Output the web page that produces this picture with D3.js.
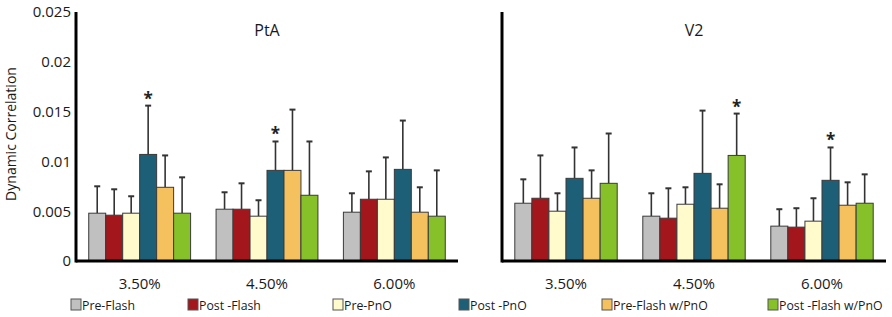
<!DOCTYPE html>
<html>
<head>
<meta charset="utf-8">
<script src="https://cdn.jsdelivr.net/npm/d3@7"></script>
<style>
	body { margin: 0; background: #fff; }
	svg { display: block; font-family: "Open Sans", sans-serif; }
</style>
</head>
<body>
<div id="chart-area"></div>
<script>
// Data
let categories = ["3.50%", "4.50%", "6.00%"];
let series = ["Pre-Flash", "Post -Flash", "Pre-PnO", "Post -PnO", "Pre-Flash w/PnO", "Post -Flash w/PnO"];
let colors = ["#c0c0c0", "#a3161b", "#fffbcc", "#1e5f78", "#f5c15e", "#86c12a"];
let yTicks = [0, 0.005, 0.01, 0.015, 0.02, 0.025];

// PtA: one row per category, one value per series
let ptaMeans = [
	[0.0048, 0.0046, 0.0048, 0.0107, 0.0074, 0.0048],
	[0.0052, 0.0052, 0.0045, 0.0091, 0.0091, 0.0066],
	[0.0049, 0.0062, 0.0062, 0.0092, 0.0049, 0.0045]
];
let ptaErrTop = [
	[0.0075, 0.0072, 0.0065, 0.0156, 0.0106, 0.0084],
	[0.0069, 0.0078, 0.0061, 0.0120, 0.0152, 0.0120],
	[0.0068, 0.0090, 0.0104, 0.0141, 0.0074, 0.0091]
];
let ptaStars = [[0, 3], [1, 3]];

// V2
let v2Means = [
	[0.0058, 0.0063, 0.0050, 0.0083, 0.0063, 0.0078],
	[0.0045, 0.0043, 0.0057, 0.0088, 0.0053, 0.0106],
	[0.0035, 0.0034, 0.0040, 0.0081, 0.0056, 0.0058]
];
let v2ErrTop = [
	[0.0082, 0.0106, 0.0068, 0.0114, 0.0091, 0.0128],
	[0.0068, 0.0073, 0.0074, 0.0151, 0.0077, 0.0148],
	[0.0052, 0.0053, 0.0063, 0.0114, 0.0079, 0.0087]
];
let v2Stars = [[1, 5], [2, 3]];

let legendX = [71, 188, 333, 459, 602, 768];

// SVG drawing space
let width = 892, height = 317;
let svg = d3.select("#chart-area")
	.append("svg")
	.attr("width", width)
	.attr("height", height);

// Shared y scale
let y = d3.scaleLinear()
	.domain([0, 0.025])
	.range([261, 12]);

// Y axis labels (left panel only)
let yAxis = d3.axisLeft(y)
	.tickValues(yTicks)
	.tickSize(0)
	.tickPadding(5)
	.tickFormat(d => String(+d.toFixed(3)));
let yAxisGroup = svg.append("g")
	.attr("transform", "translate(76,0)")
	.call(yAxis);
yAxisGroup.select(".domain").remove();
yAxisGroup.selectAll("text")
	.attr("font-size", 15)
	.attr("font-family", "Open Sans, sans-serif")
	.attr("fill", "#1a1a1a");

svg.append("text")
	.attr("transform", "translate(16,134) rotate(-90)")
	.attr("text-anchor", "middle")
	.attr("font-size", 14)
	.attr("fill", "#1a1a1a")
	.text("Dynamic Correlation");

function drawPanel(x0, x1, title, means, errTop, stars) {
	let g = svg.append("g");

	let x = d3.scaleBand()
		.domain(categories)
		.range([x0, x1])
		.paddingInner(0.2)
		.paddingOuter(0.1);
	let xs = d3.scaleBand()
		.domain(series)
		.range([0, x.bandwidth()]);

	// Error bars behind bars
	categories.forEach((c, ci) => {
		let cg = g.append("g")
			.attr("transform", "translate(" + x(c) + ",0)");
		let rows = series.map((s, si) => ({s: s, i: si, v: means[ci][si], e: errTop[ci][si]}));

		let err = cg.selectAll(".err")
			.data(rows)
			.enter()
			.append("g")
			.attr("class", "err")
			.attr("stroke", "#333")
			.attr("stroke-width", 1.6);
		err.append("line")
			.attr("x1", d => xs(d.s) + xs.bandwidth() / 2)
			.attr("x2", d => xs(d.s) + xs.bandwidth() / 2)
			.attr("y1", d => y(d.v))
			.attr("y2", d => y(d.e));
		err.append("line")
			.attr("x1", d => xs(d.s) + xs.bandwidth() / 2 - 3)
			.attr("x2", d => xs(d.s) + xs.bandwidth() / 2 + 3)
			.attr("y1", d => y(d.e))
			.attr("y2", d => y(d.e))
			.attr("stroke-width", 2);

		cg.selectAll(".bar")
			.data(rows)
			.enter()
			.append("rect")
			.attr("class", "bar")
			.attr("x", d => xs(d.s))
			.attr("y", d => y(d.v))
			.attr("width", xs.bandwidth())
			.attr("height", d => y(0) - y(d.v))
			.attr("fill", d => colors[d.i])
			.attr("stroke", "#3a3a3a")
			.attr("stroke-width", 1);

		// Category label
		g.append("text")
			.attr("x", x(c) + x.bandwidth() / 2)
			.attr("y", 289)
			.attr("text-anchor", "middle")
			.attr("font-size", 15)
			.attr("fill", "#1a1a1a")
			.text(c);
	});

	// Significance markers
	g.selectAll(".star")
		.data(stars)
		.enter()
		.append("text")
		.attr("class", "star")
		.attr("x", d => x(categories[d[0]]) + xs(series[d[1]]) + xs.bandwidth() / 2)
		.attr("y", d => y(errTop[d[0]][d[1]]) - 1)
		.attr("text-anchor", "middle")
		.attr("font-size", 17)
		.attr("font-weight", "bold")
		.attr("fill", "#222")
		.text("*");

	// Axes lines
	g.append("line")
		.attr("x1", x0).attr("x2", x0)
		.attr("y1", y(0.025)).attr("y2", y(0) + 1.5)
		.attr("stroke", "#000")
		.attr("stroke-width", 3);
	g.append("line")
		.attr("x1", x0).attr("x2", x1)
		.attr("y1", y(0)).attr("y2", y(0))
		.attr("stroke", "#000")
		.attr("stroke-width", 3);

	// Panel title
	g.append("text")
		.attr("x", (x0 + x1) / 2)
		.attr("y", 36)
		.attr("text-anchor", "middle")
		.attr("font-size", 16)
		.attr("fill", "#1a1a1a")
		.text(title);
}

drawPanel(76, 458, "PtA", ptaMeans, ptaErrTop, ptaStars);
drawPanel(502, 886, "V2", v2Means, v2ErrTop, v2Stars);

// Legend
let legend = svg.selectAll(".legend")
	.data(series)
	.enter()
	.append("g")
	.attr("class", "legend")
	.attr("transform", (d, i) => "translate(" + legendX[i] + ",299)");
legend.append("rect")
	.attr("width", 10)
	.attr("height", 11)
	.attr("fill", (d, i) => colors[i])
	.attr("stroke", "#555")
	.attr("stroke-width", 1);
legend.append("text")
	.attr("x", 11)
	.attr("y", 10.5)
	.attr("font-size", 12.3)
	.attr("fill", "#1a1a1a")
	.text(d => d);
</script>
</body>
</html>
